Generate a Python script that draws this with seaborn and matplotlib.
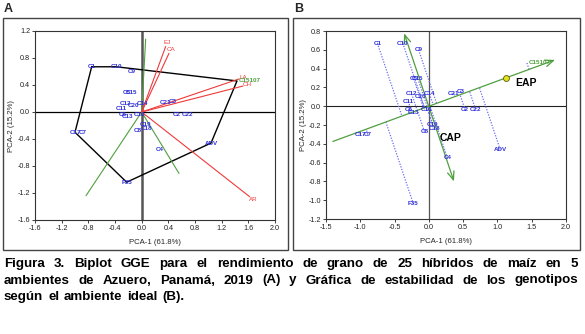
import numpy as np
import pandas as pd
import matplotlib
matplotlib.use("Agg")
import matplotlib.pyplot as plt
import seaborn as sns
from matplotlib.patches import Rectangle
from matplotlib.ticker import FormatStrFormatter, MultipleLocator

# ---------------- data ----------------
geno = ["C1", "C10", "C9", "C15107", "ADV", "F35", "C17", "C7", "C12", "C20",
        "C14", "C11", "C6", "C13", "C16", "C5", "C15", "C21", "C3", "C2",
        "C22", "C19", "C18", "C8", "C4"]
gx = [-0.75, -0.38, -0.15, 1.43, 1.04, -0.225, -1.00, -0.89, -0.25, -0.12,
      0.01, -0.30, -0.29, -0.22, -0.03, -0.22, -0.16, 0.36, 0.46, 0.53,
      0.68, 0.05, 0.08, -0.065, 0.27]
gy = [0.67, 0.67, 0.60, 0.46, -0.46, -1.04, -0.30, -0.30, 0.13, 0.10,
      0.13, 0.05, -0.03, -0.07, -0.03, 0.29, 0.29, 0.14, 0.16, -0.04,
      -0.03, -0.19, -0.24, -0.27, -0.55]
env = ["EJ", "CA", "LA", "CH", "AR"]
ex = [0.36, 0.41, 1.46, 1.52, 1.62]
ey = [0.97, 0.87, 0.49, 0.385, -1.255]
hull = ["C1", "C10", "C15107", "ADV", "F35", "C17", "C1"]
sector_x = [0.06, -0.835, 0.56]
sector_y = [1.08, -1.24, -0.91]
eap_x, eap_y = 1.12, 0.30
aea_ends_x = [-1.40, 1.84]
ord_x = [-0.36, 0.366]
ord_y = [0.775, -0.80]

caption = ["Figura 3. Biplot GGE para el rendimiento de grano de 25 híbridos de maíz en 5",
           "ambientes de Azuero, Panamá, 2019 (A) y Gráfica de estabilidad de los genotipos",
           "según el ambiente ideal (B)."]

# ---------------- style ----------------
sns.set_theme(style="white")
plt.rcParams["font.family"] = ["Liberation Sans", "DejaVu Sans"]
plt.rcParams["axes.unicode_minus"] = False
plt.rcParams["xtick.bottom"] = True
plt.rcParams["ytick.left"] = True

W, H = 585, 334
fig = plt.figure(figsize=(W / 100, H / 100), dpi=100)

def fx(px):
    return px / W

def fy(py):
    return 1 - py / H

axA = fig.add_axes([fx(35), fy(220), fx(275) - fx(35), fy(31) - fy(220)])
axB = fig.add_axes([fx(326), fy(219), fx(566) - fx(326), fy(31) - fy(219)])

BLUE = "#2f2fd8"
DOT = "#6f6ff2"
GREEN = "#4f9f3f"
RED = "#ee3a3a"

pos = {g: (x, y) for g, x, y in zip(geno, gx, gy)}

for ax in (axA, axB):
    for s in ax.spines.values():
        s.set_color("#333333")
        s.set_linewidth(0.8)
    ax.tick_params(axis="both", labelsize=5.2, length=2, width=0.6, pad=1.5,
                   colors="#222222", direction="out")
    ax.xaxis.set_major_formatter(FormatStrFormatter("%.1f"))
    ax.yaxis.set_major_formatter(FormatStrFormatter("%.1f"))

# ---------------- panel A ----------------
axA.set_xlim(-1.6, 2.0)
axA.set_ylim(-1.6, 1.2)
axA.xaxis.set_major_locator(MultipleLocator(0.4))
axA.yaxis.set_major_locator(MultipleLocator(0.4))
axA.axvline(0, color="#555555", lw=1.8, zorder=1)
axA.axhline(0, color="black", lw=0.9, zorder=1)

hdf = pd.DataFrame({"x": [pos[g][0] for g in hull], "y": [pos[g][1] for g in hull]})
sns.lineplot(data=hdf, x="x", y="y", sort=False, estimator=None, color="black",
             lw=1.0, ax=axA, zorder=2)
for sx, sy in zip(sector_x, sector_y):
    sdf = pd.DataFrame({"x": [0, sx], "y": [0, sy]})
    sns.lineplot(data=sdf, x="x", y="y", sort=False, estimator=None, color=GREEN,
                 lw=0.8, ax=axA, zorder=2)
for name, x, y in zip(env, ex, ey):
    axA.plot([0, x], [0, y], color=RED, lw=0.8, zorder=3)
    r = np.hypot(x, y)
    axA.text(x + 0.07 * x / r, y + 0.07 * y / r, name, color=RED, fontsize=4.5,
             ha="center", va="center", zorder=4)
for g, x, y in zip(geno, gx, gy):
    if g == "C15107":
        axA.text(x + 0.03, y, g, color=GREEN, fontsize=4.5, ha="left", va="center",
                 fontweight="bold", zorder=5)
    else:
        axA.text(x, y, g, color=BLUE, fontsize=4.5, ha="center", va="center",
                 fontweight="bold", zorder=5)
axA.set_xlabel("PCA-1 (61.8%)", fontsize=5.6, labelpad=5)
axA.set_ylabel("PCA-2 (15.2%)", fontsize=5.6, labelpad=1.5)

# ---------------- panel B ----------------
axB.set_xlim(-1.5, 2.0)
axB.set_ylim(-1.2, 0.8)
axB.xaxis.set_major_locator(MultipleLocator(0.5))
axB.yaxis.set_major_locator(MultipleLocator(0.2))
axB.axvline(0, color="#555555", lw=0.9, zorder=1)
axB.axhline(0, color="#222222", lw=0.8, zorder=1)

slope = eap_y / eap_x
u = np.array([1.0, slope])
d = np.array([ord_x[1] - ord_x[0], ord_y[1] - ord_y[0]])
for g, x, y in zip(geno, gx, gy):
    A = np.array([[u[0], -d[0]], [u[1], -d[1]]])
    s, t = np.linalg.solve(A, np.array([x, y]))
    axB.plot([x, s * u[0]], [y, s * u[1]], color=DOT, lw=0.9, ls=(0, (1, 1.2)), zorder=2)

axB.annotate("", xy=(aea_ends_x[1], slope * aea_ends_x[1]),
             xytext=(aea_ends_x[0], slope * aea_ends_x[0]),
             arrowprops=dict(arrowstyle="->,head_length=0.5,head_width=0.2",
                             color=GREEN, lw=0.9, shrinkA=0, shrinkB=0), zorder=3)
axB.annotate("", xy=(ord_x[0], ord_y[0]), xytext=(ord_x[1], ord_y[1]),
             arrowprops=dict(arrowstyle="<->,head_length=0.5,head_width=0.2",
                             color=GREEN, lw=0.9, shrinkA=0, shrinkB=0), zorder=3)
edf = pd.DataFrame({"x": [eap_x], "y": [eap_y]})
sns.scatterplot(data=edf, x="x", y="y", s=18, color="#e6e21a", edgecolor="#5a5a10",
                linewidth=0.6, ax=axB, zorder=6)
for g, x, y in zip(geno, gx, gy):
    if g == "C15107":
        axB.text(x + 0.03, y, g, color=GREEN, fontsize=4.5, ha="left", va="center",
                 fontweight="bold", zorder=5)
    else:
        axB.text(x, y, g, color=BLUE, fontsize=4.5, ha="center", va="center",
                 fontweight="bold", zorder=5)
axB.text(1.42, 0.25, "EAP", fontsize=7.5, fontweight="bold", color="black",
         ha="center", va="center")
axB.text(0.31, -0.34, "CAP", fontsize=7.5, fontweight="bold", color="black",
         ha="center", va="center")
axB.set_xlabel("PCA-1 (61.8%)", fontsize=5.6, labelpad=5)
axB.set_ylabel("PCA-2 (15.2%)", fontsize=5.6, labelpad=1.5)

# ---------------- frames and panel letters ----------------
for x0, x1 in ((3, 288), (293, 580)):
    fig.add_artist(Rectangle((fx(x0), fy(250)), fx(x1) - fx(x0), fy(18) - fy(250),
                             transform=fig.transFigure, fill=False,
                             ec="#444444", lw=1.0))
fig.text(fx(4), fy(9), "A", fontsize=9, fontweight="bold", ha="left", va="center")
fig.text(fx(294), fy(9), "B", fontsize=9, fontweight="bold", ha="left", va="center")

# ---------------- caption (justified) ----------------
renderer = fig.canvas.get_renderer()
CFS = 9.6
cap_y = [264, 280.5, 297]
for i, (line, py) in enumerate(zip(caption, cap_y)):
    words = line.split(" ")
    ts = [fig.text(0, fy(py), w, fontsize=CFS, fontweight="bold", ha="left",
                   va="center", color="black") for w in words]
    widths = [t.get_window_extent(renderer).width for t in ts]
    if i < 2:
        gap = (578 - 4 - sum(widths)) / (len(words) - 1)
    else:
        sp = fig.text(0, 0, "a a", fontsize=CFS, fontweight="bold")
        sp2 = fig.text(0, 0, "aa", fontsize=CFS, fontweight="bold")
        gap = sp.get_window_extent(renderer).width - sp2.get_window_extent(renderer).width
        sp.remove(); sp2.remove()
        gap *= 1.3
    x = 4
    for t, w in zip(ts, widths):
        t.set_x(fx(x))
        x += w + gap

fig.savefig("out.png", dpi=100)
